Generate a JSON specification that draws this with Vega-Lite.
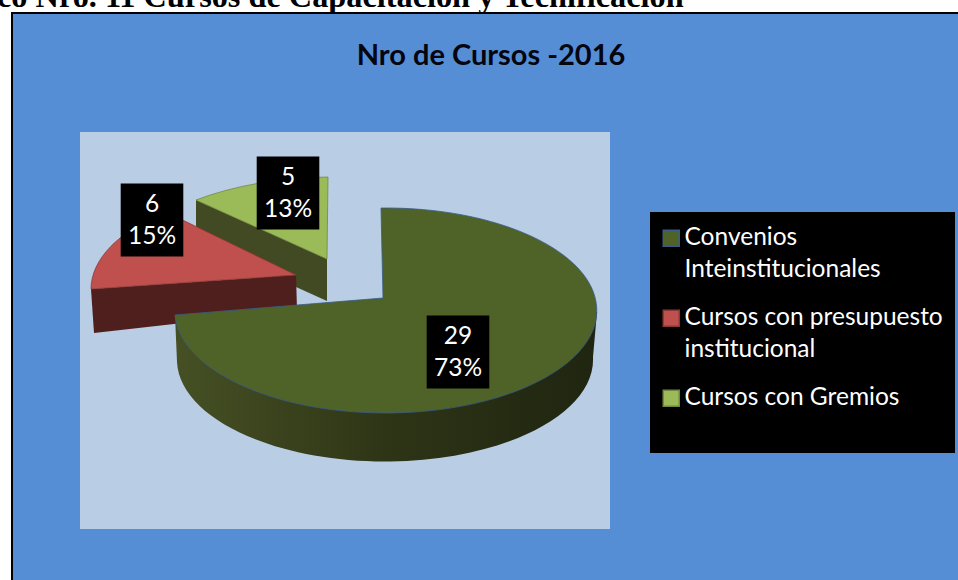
{
"$schema":"https://vega.github.io/schema/vega-lite/v6.json",
"width":958,"height":580,"padding":0,"autosize":{"type":"none"},
"background":"#ffffff",
"config":{"view":{"stroke":null}},
"layer":[
{"data":{"values":[{}]},"mark":{"type":"rect","fill":"#558ed5","stroke":"#000000","strokeWidth":2},"encoding":{"x":{"value":12},"x2":{"value":962},"y":{"value":13},"y2":{"value":590}}},
{"data":{"values":[{}]},"mark":{"type":"rect","fill":"#b9cde5"},"encoding":{"x":{"value":80},"x2":{"value":610},"y":{"value":132},"y2":{"value":529}}},
{"data":{"values":[{}]},"mark":{"type":"rect","fill":"#000000"},"encoding":{"x":{"value":650},"x2":{"value":955},"y":{"value":212},"y2":{"value":453}}},
{"data":{"values":[{"t":"co Nro. 11 Cursos de Capacitación y Tecnificación"}]},"mark":{"type":"text","font":"Liberation Serif","fontWeight":"bold","fontSize":32.3,"align":"left","baseline":"alphabetic","color":"#000000"},"encoding":{"text":{"field":"t"},"x":{"value":-3},"y":{"value":7}}},
{"data":{"values":[{"t":"Nro de Cursos -2016"}]},"mark":{"type":"text","font":"Lato","fontWeight":"bold","fontSize":29,"align":"center","baseline":"middle","color":"#05050f"},"encoding":{"text":{"field":"t"},"x":{"value":491},"y":{"value":56}}},
{"data":{"values":[
{"categoria":"Convenios Inteinstitucionales","valor":29,"porcentaje":"73%"},
{"categoria":"Cursos con presupuesto institucional","valor":6,"porcentaje":"15%"},
{"categoria":"Cursos con Gremios","valor":5,"porcentaje":"13%"}
]},
"encoding":{
"x":{"field":"valor","type":"quantitative","axis":null,"scale":{"domain":[5,6,29],"range":[288,152,458],"nice":false,"zero":false}},
"y":{"field":"valor","type":"quantitative","axis":null,"scale":{"domain":[5,6,29],"range":[193,220,352],"nice":false,"zero":false}}
},
"layer":[
{"transform":[{"filter":"datum.valor==5"}],"mark":{"type":"point","filled":true,"opacity":1,"size":4,"fill":"#414a22","shape":"M-92,7L39,66L39,108L-92,49Z"}},
{"transform":[{"filter":"datum.valor==5"}],"mark":{"type":"point","filled":true,"opacity":1,"size":4,"strokeWidth":0.8,"shape":"M-92,7A220 105 0 0 1 40,-16L39,66Z"},
 "encoding":{"fill":{"field":"categoria","type":"nominal","scale":{"domain":["Convenios Inteinstitucionales","Cursos con presupuesto institucional","Cursos con Gremios"],"range":["#4f6228","#c0504d","#9bbb59"]},
 "legend":{"orient":"none","legendX":659,"legendY":226,"title":null,"padding":0,"labelColor":"#ffffff","labelFont":"Lato","labelFontSize":24.5,"labelLimit":300,"symbolType":"square","symbolSize":256,"symbolStrokeWidth":1.5,"symbolOpacity":1,"rowPadding":23,"labelOffset":1,
 "encode":{"labels":{"update":{"lineHeight":{"value":32}}}},
 "labelExpr":"datum.label=='Convenios Inteinstitucionales'?['Convenios','Inteinstitucionales']:datum.label=='Cursos con presupuesto institucional'?['Cursos con presupuesto','institucional']:datum.label"}},
 "stroke":{"field":"categoria","type":"nominal","scale":{"domain":["Convenios Inteinstitucionales","Cursos con presupuesto institucional","Cursos con Gremios"],"range":["#385d8a","#8c3836","#71893f"]},"legend":{"orient":"none","legendX":659,"legendY":226,"title":null}}}},
{"transform":[{"filter":"datum.valor==6"}],"mark":{"type":"point","filled":true,"opacity":1,"size":4,"fill":"#4f1f1e","shape":"M-61,69L144,55L145,90L-58,113Z"}},
{"transform":[{"filter":"datum.valor==6"}],"mark":{"type":"point","filled":true,"opacity":1,"size":4,"strokeWidth":0.8,"shape":"M-61,69A205 100 0 0 1 14,-8L144,55Z"},
 "encoding":{"fill":{"field":"categoria","type":"nominal"},"stroke":{"field":"categoria","type":"nominal"}}},
{"transform":[{"filter":"datum.valor==29"}],"mark":{"type":"point","filled":true,"opacity":1,"size":4,"shape":"M139,-40L135,5A208 102 0 0 1 -281,10L-283,-37Z",
 "fill":{"gradient":"linear","x1":0,"y1":0,"x2":1,"y2":0,"stops":[{"offset":0,"color":"#465024"},{"offset":0.5,"color":"#2e3516"},{"offset":1,"color":"#1f2510"}]}}},
{"transform":[{"filter":"datum.valor==29"}],"mark":{"type":"point","filled":true,"opacity":1,"size":4,"strokeWidth":0.8,"shape":"M-77,-144A211 102.5 0 1 1 -283,-37L-75,-54Z"},
 "encoding":{"fill":{"field":"categoria","type":"nominal"},"stroke":{"field":"categoria","type":"nominal"}}},
{"mark":{"type":"point","filled":true,"opacity":1,"size":4,"fill":"#000000","shape":"M-31.3,-36.5H31.3V36.5H-31.3Z"}},
{"mark":{"type":"text","font":"Lato","fontSize":24.5,"color":"#ffffff","align":"center","baseline":"middle","dy":-15},"encoding":{"text":{"field":"valor","type":"quantitative"}}},
{"mark":{"type":"text","font":"Lato","fontSize":24.5,"color":"#ffffff","align":"center","baseline":"middle","dy":17},"encoding":{"text":{"field":"porcentaje","type":"nominal"}}}
]}
]
}
